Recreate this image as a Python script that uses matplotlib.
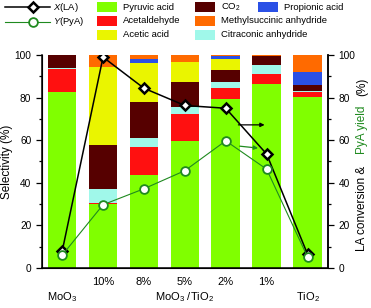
import matplotlib
matplotlib.use("Agg")
import matplotlib.pyplot as plt
from matplotlib.lines import Line2D
from matplotlib.patches import Rectangle
import numpy as np

plt.rcParams["font.family"] = ["Liberation Sans", "DejaVu Sans"]
plt.rcParams["mathtext.fontset"] = "custom"
plt.rcParams["mathtext.rm"] = "Liberation Sans"
plt.rcParams["mathtext.it"] = "Liberation Sans:italic"
plt.rcParams["font.size"] = 6.8

# selectivity (%) per catalyst, stacked bottom -> top
catalysts = ["MoO$_3$", "10%", "8%", "5%", "2%", "1%", "TiO$_2$"]
pyruvic = [82.5, 30.0, 43.8, 59.4, 79.3, 86.6, 80.5]
acetaldehyde = [10.8, 0.5, 12.8, 12.8, 5.1, 4.4, 2.0]
citraconic = [0.8, 6.6, 4.2, 3.6, 2.7, 4.5, 0.5]
co2 = [5.9, 20.8, 17.1, 11.7, 5.9, 3.9, 2.9]
acetic = [0.0, 36.7, 18.2, 9.4, 5.3, 0.0, 0.0]
propionic = [0.0, 0.0, 2.0, 0.0, 1.0, 0.0, 6.3]
methylsuccinic = [0.0, 5.4, 1.9, 3.1, 0.7, 0.6, 7.8]

# LA conversion X(LA) and PyA yield Y(PyA), %
conversion = [7.8, 99.0, 84.4, 76.3, 75.0, 53.5, 6.5]
pya_yield = [6.0, 29.7, 37.2, 45.7, 59.7, 46.4, 5.2]

series = [
    ("Pyruvic acid", pyruvic, "#80ff00"),
    ("Acetaldehyde", acetaldehyde, "#ff1010"),
    ("Citraconic anhydride", citraconic, "#a0f8ea"),
    ("CO$_2$", co2, "#560000"),
    ("Acetic acid", acetic, "#eaf500"),
    ("Propionic acid", propionic, "#2a50e6"),
    ("Methylsuccinic anhydride", methylsuccinic, "#ff6a00"),
]
GREEN = "#1f8a1f"
W, H = 371, 308

fig = plt.figure(figsize=(W / 100, H / 100), dpi=100)
ax = fig.add_axes([0.1124, 0.1299, 0.7716, 0.6915])
x = np.arange(len(catalysts))
bottom = np.zeros(len(catalysts))
for name, vals, color in series:
    ax.bar(x, vals, bottom=bottom, width=0.7, color=color, linewidth=0)
    bottom += np.array(vals)

ax.set_xlim(-0.5, len(catalysts) - 0.5)
ax.set_ylim(0, 100)
ax.set_yticks(range(0, 101, 20))
ax.set_yticks(range(10, 100, 20), minor=True)
ax.set_xticks([])
ax.spines["top"].set_visible(False)
for s in ("left", "right", "bottom"):
    ax.spines[s].set_linewidth(1.1)
ax.tick_params(axis="y", which="major", length=4, width=0.9, direction="out",
               labelsize=7.3)
ax.tick_params(axis="y", which="minor", length=2.2, width=0.9, direction="out")
ax.set_ylabel("Selectivity (%)", labelpad=1, fontsize=8.5)

ax2 = ax.twinx()
ax2.set_ylim(0, 100)
ax2.set_yticks(range(0, 101, 20))
ax2.set_yticks(range(10, 100, 20), minor=True)
ax2.spines["top"].set_visible(False)
ax2.spines["right"].set_linewidth(1.1)
ax2.tick_params(axis="y", which="major", length=4, width=0.9, direction="out",
                labelsize=7.3)
ax2.tick_params(axis="y", which="minor", length=2.2, width=0.9, direction="out")

diamond = dict(color="black", lw=1.1, marker="D", ms=5.2, mfc="white",
               mec="black", mew=1.8)
circle = dict(color=GREEN, lw=0.8, marker="o", ms=6.3, mfc="white",
              mec=GREEN, mew=1.3)
ax2.plot(x, conversion, zorder=3, **diamond)
ax2.plot(x, pya_yield, zorder=4, **circle)

ax2.annotate("", xy=(4.95, 67.2), xytext=(4.31, 67.2),
             arrowprops=dict(arrowstyle="-|>", color="black", lw=0.9,
                             mutation_scale=6, shrinkA=0, shrinkB=0))
ax2.annotate("", xy=(4.79, 56.3), xytext=(4.34, 57.2),
             arrowprops=dict(arrowstyle="-|>", color=GREEN, lw=0.9,
                             mutation_scale=6, shrinkA=0, shrinkB=0))

# right axis label in two colours
lbl = dict(rotation=90, ha="center", va="center", fontsize=8.5)
fig.text(0.977, 0.323, "LA conversion &", **lbl)
fig.text(0.977, 0.578, "PyA yield", color=GREEN, **lbl)
fig.text(0.977, 0.7175, "(%)", **lbl)

# category labels below the bars
for xi, name in zip(x[1:-1], catalysts[1:-1]):
    ax.text(xi, -6.8, name, ha="center", va="center", fontsize=8)
ax.text(x[0], -13.6, catalysts[0], ha="center", va="center", fontsize=8)
ax.text(x[-1], -13.6, catalysts[-1], ha="center", va="center", fontsize=8)
ax.text(x[3], -13.6, "MoO$_3$ /TiO$_2$", ha="center", va="center", fontsize=8)

# legend for the two lines (figure pixels from top-left)
for style, label, y in ((diamond, "$X$(LA)", 7), (circle, "$Y$(PyA)", 22)):
    fy = 1 - y / H
    fig.add_artist(Line2D([5 / W, 50 / W], [fy, fy], color=style["color"],
                          lw=style["lw"]))
    fig.add_artist(Line2D([33 / W], [fy], linestyle="none",
                          **{k: v for k, v in style.items() if k not in ("color", "lw")}))
    fig.text(53 / W, fy, label, va="center", ha="left", fontsize=6.8)

# legend for the bar components: (series index, column x, row y)
legend_slots = [(0, 97, 7), (1, 97, 20.7), (4, 97, 34.7),
                (3, 195, 7), (6, 195, 20.7), (2, 195, 34.7),
                (5, 258, 7)]
for idx, px, py in legend_slots:
    name, _, color = series[idx]
    fig.add_artist(Rectangle((px / W, 1 - (py + 5) / H), 20 / W, 10 / H,
                             color=color, lw=0, transform=fig.transFigure))
    fig.text((px + 26) / W, 1 - py / H, name, va="center", ha="left",
             fontsize=6.8)

fig.savefig("out.png", dpi=100)
